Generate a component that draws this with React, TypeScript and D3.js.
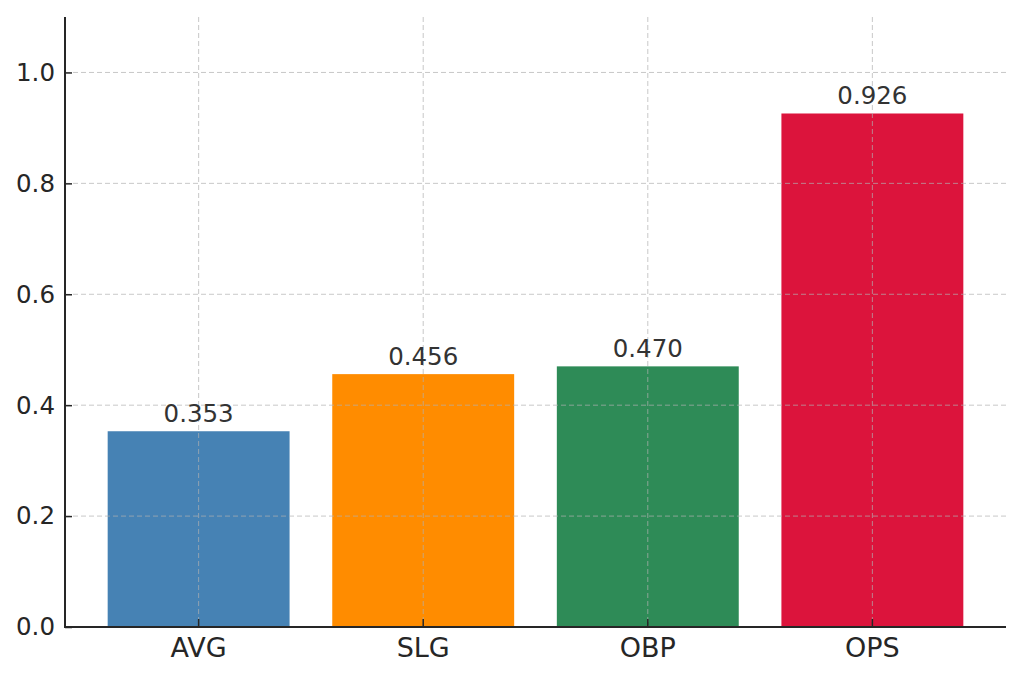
import React, { useEffect, useRef } from "react";
import * as d3 from "d3";

const categories = ["AVG", "SLG", "OBP", "OPS"];
const values = [0.353, 0.456, 0.47, 0.926];
const barColors = ["#4682b4", "#ff8c00", "#2e8b57", "#dc143c"];
const yTicks = [0, 0.2, 0.4, 0.6, 0.8, 1.0];

const W = 1024;
const H = 682;
const margin = { top: 17, right: 18, bottom: 55, left: 65 };
const FONT = "'DejaVu Sans', sans-serif";

const App: React.FC = () => {
  const svgRef = useRef<SVGSVGElement>(null);

  useEffect(() => {
    document.body.style.margin = "0";
    const width = W - margin.left - margin.right;
    const height = H - margin.top - margin.bottom;

    const svg = d3.select(svgRef.current);
    svg.selectAll("*").remove();

    const chart = svg
      .append("g")
      .attr("transform", `translate(${margin.left},${margin.top})`);

    const xScale = d3
      .scaleBand()
      .domain(categories)
      .range([0, width])
      .paddingInner(0.19)
      .paddingOuter(0.19);

    const yScale = d3.scaleLinear().domain([0, 1.1]).range([height, 0]);

    // bars
    chart
      .selectAll(".bar")
      .data(values)
      .enter()
      .append("rect")
      .attr("class", "bar")
      .attr("x", (_, i) => xScale(categories[i]) as number)
      .attr("y", (d) => yScale(d))
      .attr("width", xScale.bandwidth())
      .attr("height", (d) => height - yScale(d))
      .attr("fill", (_, i) => barColors[i]);

    // grid lines (on top of bars)
    const grid = chart.append("g").attr("class", "grid");
    grid
      .selectAll(".hgrid")
      .data(yTicks)
      .enter()
      .append("line")
      .attr("x1", 0)
      .attr("x2", width)
      .attr("y1", (d) => yScale(d))
      .attr("y2", (d) => yScale(d))
      .attr("stroke", "#b0b0b0")
      .attr("stroke-opacity", 0.7)
      .attr("stroke-dasharray", "5,3")
      .attr("stroke-width", 1);
    grid
      .selectAll(".vgrid")
      .data(categories)
      .enter()
      .append("line")
      .attr("x1", (d) => (xScale(d) as number) + xScale.bandwidth() / 2)
      .attr("x2", (d) => (xScale(d) as number) + xScale.bandwidth() / 2)
      .attr("y1", 0)
      .attr("y2", height)
      .attr("stroke", "#b0b0b0")
      .attr("stroke-opacity", 0.7)
      .attr("stroke-dasharray", "5,3")
      .attr("stroke-width", 1);

    // value labels
    chart
      .selectAll(".val")
      .data(values)
      .enter()
      .append("text")
      .attr("x", (_, i) => (xScale(categories[i]) as number) + xScale.bandwidth() / 2)
      .attr("y", (d) => yScale(d) - 9)
      .attr("text-anchor", "middle")
      .attr("font-family", FONT)
      .attr("font-size", 24.5)
      .attr("fill", "#333333")
      .text((d) => d3.format(".3f")(d));

    // y axis
    const yAxis = d3
      .axisLeft(yScale)
      .tickValues(yTicks)
      .tickSize(-7)
      .tickPadding(10)
      .tickFormat(d3.format(".1f"));
    chart
      .append("g")
      .call(yAxis)
      .call((g) => g.select(".domain").remove())
      .call((g) => g.selectAll("line").attr("stroke", "#262626").attr("stroke-width", 1.5))
      .call((g) =>
        g
          .selectAll("text")
          .attr("fill", "#262626")
          .attr("font-family", FONT)
          .attr("font-size", 24.5)
      );

    // x axis
    const xAxis = d3.axisBottom(xScale).tickSize(-8).tickPadding(11);
    chart
      .append("g")
      .attr("transform", `translate(0,${height})`)
      .call(xAxis)
      .call((g) => g.select(".domain").remove())
      .call((g) => g.selectAll("line").attr("stroke", "#262626").attr("stroke-width", 1.5))
      .call((g) =>
        g
          .selectAll("text")
          .attr("fill", "#262626")
          .attr("font-family", FONT)
          .attr("font-size", 27)
      );

    // spines
    chart
      .append("line")
      .attr("x1", 0)
      .attr("x2", 0)
      .attr("y1", 0)
      .attr("y2", height)
      .attr("stroke", "#262626")
      .attr("stroke-width", 2);
    chart
      .append("line")
      .attr("x1", -1)
      .attr("x2", width)
      .attr("y1", height)
      .attr("y2", height)
      .attr("stroke", "#262626")
      .attr("stroke-width", 2);
  }, []);

  return (
    <svg
      ref={svgRef}
      width={W}
      height={H}
      style={{ display: "block", background: "#fff" }}
    ></svg>
  );
};

export default App;
